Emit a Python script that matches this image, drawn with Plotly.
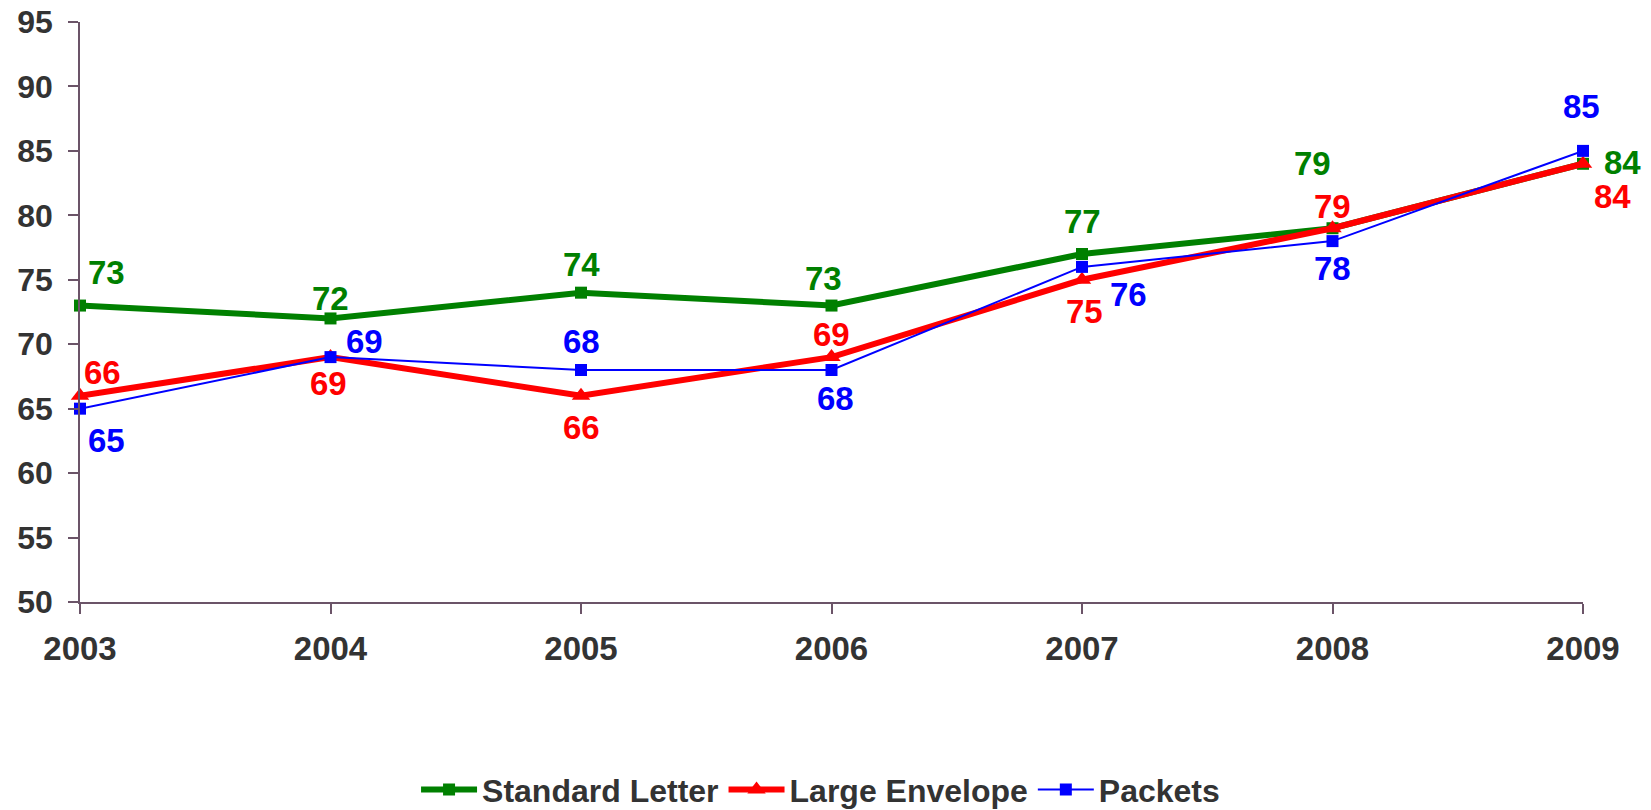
import plotly.graph_objects as go

years = [2003, 2004, 2005, 2006, 2007, 2008, 2009]
standard_letter = [73, 72, 74, 73, 77, 79, 84]
large_envelope = [66, 69, 66, 69, 75, 79, 84]
packets = [65, 69, 68, 68, 76, 78, 85]

# label offsets in pixels (dx, dy) for each point, per series
sl_offsets = [(26, 33), (0, 20), (0, 28), (-8, 27), (0, 33), (-20, 65), (39, 1)]
le_offsets = [(22, 23), (-2, -26), (0, -32), (0, 23), (2, -32), (0, 22), (29, -33)]
pk_offsets = [(26, -32), (34, 16), (0, 29), (4, -28), (46, -28), (0, -27), (-2, 44)]

FONT = "Liberation Sans, Arial, sans-serif"
AXIS_COLOR = "#6b5468"
TEXT_COLOR = "#333333"

series = [
    ("Standard Letter", standard_letter, "#008000", 6, "square", 12, sl_offsets),
    ("Large Envelope", large_envelope, "#ff0000", 6, "triangle-up", 16, le_offsets),
    ("Packets", packets, "#0000ff", 2, "square", 12, pk_offsets),
]

fig = go.Figure()
annotations = []
for name, vals, color, lw, sym, msize, offs in series:
    fig.add_trace(go.Scatter(
        x=years, y=vals, name=name, mode="lines+markers",
        line=dict(color=color, width=lw),
        marker=dict(symbol=sym, size=msize, color=color),
        cliponaxis=False,
    ))
    for x, v, (dx, dy) in zip(years, vals, offs):
        annotations.append(dict(
            x=x, y=v, xref="x", yref="y", text=str(v), showarrow=False,
            xshift=dx, yshift=dy,
            font=dict(family=FONT, size=33, color=color, weight="bold"),
        ))

fig.update_layout(
    width=1651, height=810,
    margin=dict(l=80, r=68, t=22, b=208, autoexpand=False),
    paper_bgcolor="white", plot_bgcolor="white",
    showlegend=True,
    legend=dict(
        orientation="h", xref="container", x=0.497, xanchor="center",
        yref="container", y=0.025, yanchor="middle",
        font=dict(family=FONT, size=32, color=TEXT_COLOR, weight="bold"),
        itemwidth=56, tracegroupgap=0,
    ),
    annotations=annotations,
    xaxis=dict(
        range=[2003, 2009], tickmode="array", tickvals=years,
        ticktext=[str(y) for y in years],
        showgrid=False, zeroline=False, automargin=False,
        showline=True, linecolor=AXIS_COLOR, linewidth=1.5,
        ticks="outside", ticklen=10, tickcolor=AXIS_COLOR, tickwidth=1.5,
        ticklabelstandoff=7,
        tickfont=dict(family=FONT, size=33, color=TEXT_COLOR, weight="bold"),
    ),
    yaxis=dict(
        range=[50, 95], dtick=5, tick0=50,
        showgrid=False, zeroline=False, automargin=False,
        showline=True, linecolor=AXIS_COLOR, linewidth=1.5,
        ticks="outside", ticklen=10, tickcolor=AXIS_COLOR, tickwidth=1.5,
        ticklabelstandoff=9,
        tickfont=dict(family=FONT, size=32, color=TEXT_COLOR, weight="bold"),
    ),
)

fig.write_html("out.html")
